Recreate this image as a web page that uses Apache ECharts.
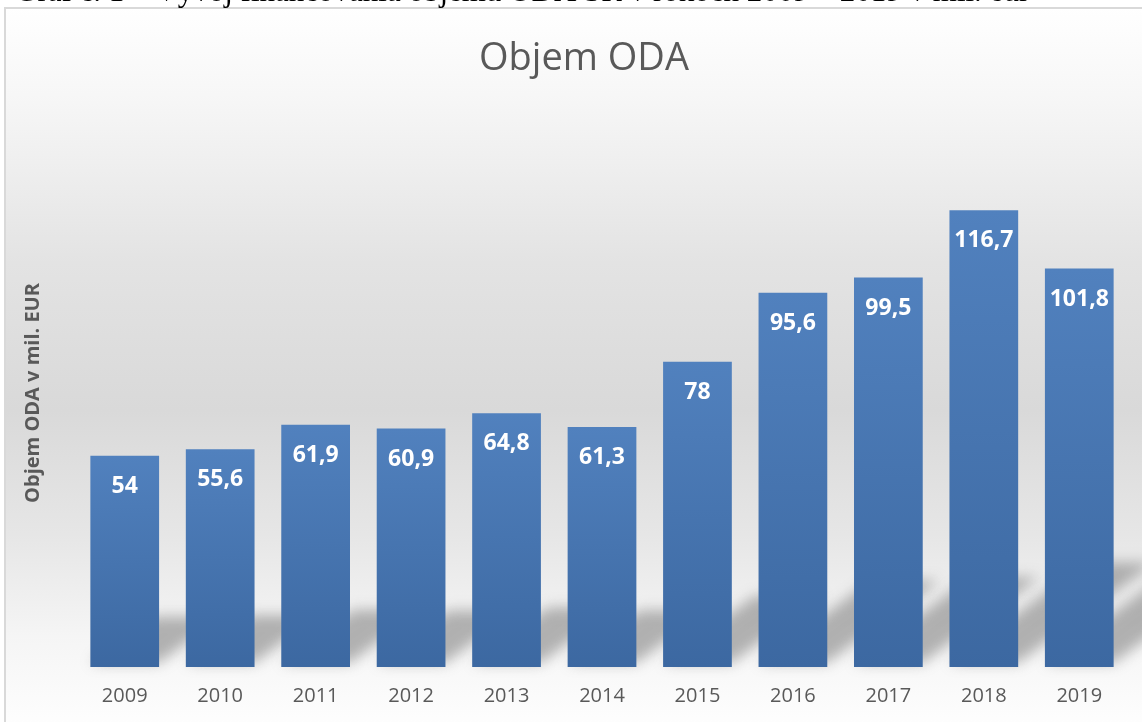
<!DOCTYPE html>
<html>
<head>
<meta charset="utf-8">
<style>
  html, body { margin: 0; padding: 0; background: #fff; }
  #chart { width: 1142px; height: 722px; }
</style>
<script src="https://cdn.jsdelivr.net/npm/echarts@6/dist/echarts.min.js"></script>
</head>
<body>
<div id="chart"></div>
<script>
// roky a objem ODA v mil. EUR
const years = ['2009', '2010', '2011', '2012', '2013', '2014', '2015', '2016', '2017', '2018', '2019'];
const odaValues = [54, 55.6, 61.9, 60.9, 64.8, 61.3, 78, 95.6, 99.5, 116.7, 101.8];

const chart = echarts.init(document.getElementById('chart'));

const fmt = (v) => String(v).replace('.', ',');

// tien stlpca - rovnobeznik sikmo dozadu, kresli sa len rozmazany tien
const OFF = 3000;
const renderShadow = (params, api) => {
    const val = api.value(1);
    const top = api.coord([api.value(0), val]);
    const base = api.coord([api.value(0), 0]);
    const band = api.size([1, 0])[0];
    const w = band * 0.72;
    const h = base[1] - top[1];
    const x0 = base[0] - w / 2 - OFF;
    const x1 = base[0] + w / 2 - OFF;
    const y0 = base[1] - 4;
    const dy = h * 0.22;
    const dx = h * 0.3;
    return {
        type: 'polygon',
        shape: {
            points: [[x0, y0], [x1, y0], [x1 + dx, y0 - dy], [x0 + dx, y0 - dy]]
        },
        style: {
            fill: '#000',
            shadowBlur: 14,
            shadowOffsetX: OFF,
            shadowColor: 'rgba(130,130,130,0.6)'
        }
    };
};

const option = {
    animation: false,
    graphic: [
        {
            type: 'rect',
            z: -10,
            shape: { x: 5, y: 8, width: 1150, height: 730 },
            style: {
                stroke: '#d9d9d9',
                lineWidth: 2,
                fill: {
                    type: 'linear', x: 0, y: 0, x2: 0, y2: 1,
                    colorStops: [
                        { offset: 0, color: '#ffffff' },
                        { offset: 0.12, color: '#f7f7f7' },
                        { offset: 0.35, color: '#e3e3e3' },
                        { offset: 0.55, color: '#d9d9d9' },
                        { offset: 0.72, color: '#e6e6e6' },
                        { offset: 0.86, color: '#f5f5f5' },
                        { offset: 1, color: '#ffffff' }
                    ]
                }
            }
        },
        {
            type: 'text',
            left: 15,
            top: -23,
            style: {
                text: 'Graf č. 1 – Vývoj financovania objemu ODA SR v rokoch 2009 – 2019 v mil. eur',
                font: '31px "Liberation Serif"',
                fill: '#000'
            }
        }
    ],
    title: {
        text: 'Objem ODA',
        left: 474,
        top: 35,
        textStyle: {
            fontFamily: 'Open Sans',
            fontSize: 38,
            fontWeight: 'normal',
            color: '#595959'
        }
    },
    grid: {
        left: 77,
        right: 15,
        top: 119,
        bottom: 55
    },
    xAxis: {
        type: 'category',
        data: years,
        axisLine: { show: false },
        axisTick: { show: false },
        axisLabel: {
            margin: 19,
            fontFamily: 'Open Sans',
            fontSize: 20,
            color: '#595959'
        }
    },
    yAxis: {
        type: 'value',
        min: 0,
        max: 140,
        interval: 20,
        name: 'Objem ODA v mil. EUR',
        nameLocation: 'middle',
        nameGap: 34,
        nameTextStyle: {
            fontFamily: 'Open Sans',
            fontSize: 20,
            fontWeight: 'bold',
            color: '#595959'
        },
        axisLine: { show: false },
        axisTick: { show: false },
        axisLabel: { show: false },
        splitLine: { show: false }
    },
    series: [
        {
            type: 'custom',
            z: 1,
            renderItem: renderShadow,
            encode: { x: 0, y: 1 },
            data: odaValues.map((v, i) => [i, v]),
            silent: true
        },
        {
            type: 'bar',
            z: 3,
            data: odaValues,
            barWidth: '72%',
            itemStyle: {
                color: {
                    type: 'linear', x: 0, y: 0, x2: 0, y2: 1,
                    colorStops: [
                        { offset: 0, color: '#5181be' },
                        { offset: 1, color: '#3c68a1' }
                    ]
                }
            },
            label: {
                show: true,
                position: 'insideTop',
                distance: 19,
                formatter: (p) => fmt(p.value),
                fontFamily: 'Open Sans',
                fontSize: 23,
                fontWeight: 'bold',
                color: '#fff'
            }
        }
    ]
};

chart.setOption(option);
</script>
</body>
</html>
